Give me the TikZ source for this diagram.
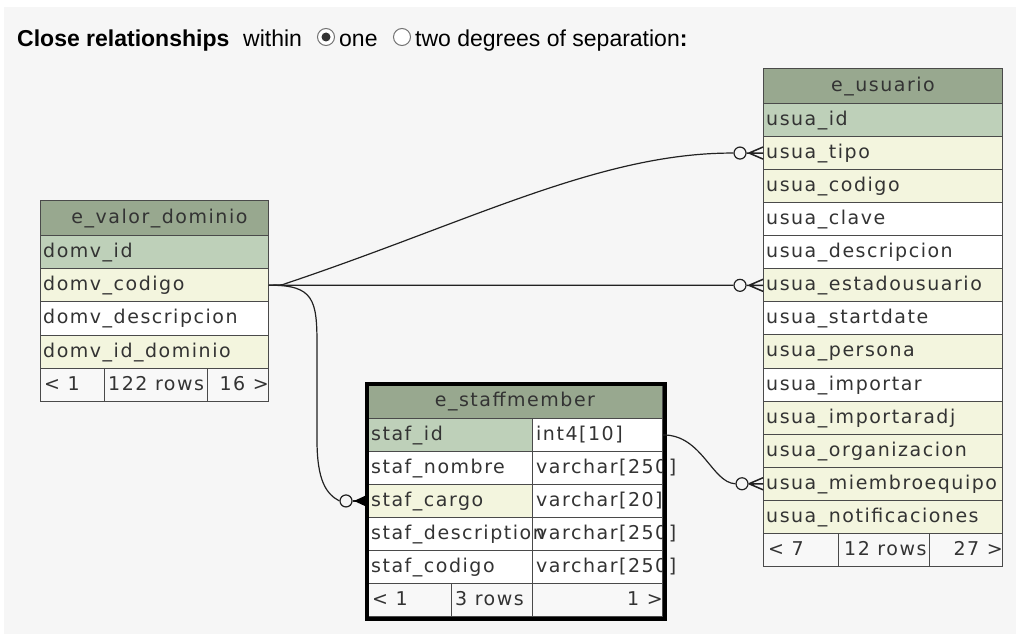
\documentclass[tikz,border=0pt]{standalone}
\usepackage{fontspec}
\newfontfamily\tabfont[LetterSpace=8]{DejaVu Sans}
\newfontfamily\uifont{Liberation Sans}
\definecolor{pagebg}{HTML}{F6F6F6}
\definecolor{hdr}{HTML}{98A88F}
\definecolor{pkrow}{HTML}{BED0B9}
\definecolor{fkrow}{HTML}{F3F5DE}
\definecolor{footrow}{HTML}{F8F8F8}
\definecolor{gridline}{HTML}{4A4A4A}
\definecolor{celltext}{HTML}{333333}
\definecolor{linkline}{HTML}{222222}
\tikzset{
  cell/.style={draw=gridline, line width=0.9pt, anchor=north west, inner sep=0pt, minimum height=33.07pt},
  ctext/.style={anchor=west, inner sep=0pt, text=celltext, font=\tabfont\fontsize{19}{22}\selectfont, text height=15pt, text depth=4pt},
  rtext/.style={ctext, anchor=east},
  htext/.style={ctext, anchor=center},
  ui/.style={anchor=base west, inner sep=0pt, font=\uifont\fontsize{23}{26}\selectfont, text=black},
  conn/.style={draw=linkline, line width=1.2pt},
  oend/.style={circle, draw=linkline, line width=1.2pt, fill=pagebg, minimum size=12pt, inner sep=0pt},
  crow/.style={draw=linkline, line width=1.5pt},
}
\begin{document}
\begin{tikzpicture}[x=1pt,y=-1pt]
\useasboundingbox (0,0) rectangle (1016,634);
\fill[white] (0,0) rectangle (1016,634);
\fill[pagebg] (4,7) rectangle (1016,634);

% heading line with the two radio buttons
\node[ui] (ttl) at (17,46) {\bfseries Close relationships};
\node[ui] (within) at (243,46) {within};
\node[circle, draw=black!55, line width=1pt, fill=white, minimum size=17pt, inner sep=0pt] (rb1) at (326,37) {};
\node[circle, fill=black!80, minimum size=9pt, inner sep=0pt] (rb1dot) at (rb1.center) {};
\node[ui] (one) at (339,46) {one};
\node[circle, draw=black!55, line width=1pt, fill=white, minimum size=17pt, inner sep=0pt] (rb2) at (402,37) {};
\node[ui] (two) at (415,46) {two degrees of separation\textbf{:}};

% ---------- e_valor_dominio ----------
\node[cell, fill=hdr, minimum width=228pt, minimum height=35pt] (vh) at (40,200) {};
\node[htext] (vht) at ([xshift=5pt]vh.center) {e\_valor\_dominio};
\node[cell, fill=pkrow, minimum width=228pt, minimum height=33.2pt] (v1) at (40,235) {};
\node[cell, fill=fkrow, minimum width=228pt, minimum height=33.2pt] (v2) at (40,268.2) {};
\node[cell, fill=white, minimum width=228pt, minimum height=33.2pt] (v3) at (40,301.4) {};
\node[cell, fill=fkrow, minimum width=228pt, minimum height=33.2pt] (v4) at (40,334.6) {};
\node[cell, fill=footrow, minimum width=64pt, minimum height=33.2pt] (vf1) at (40,367.8) {};
\node[cell, fill=footrow, minimum width=103pt, minimum height=33.2pt] (vf2) at (104,367.8) {};
\node[cell, fill=footrow, minimum width=61pt, minimum height=33.2pt] (vf3) at (207,367.8) {};
\node[ctext] (v1t) at ([xshift=3pt]v1.west) {domv\_id};
\node[ctext] (v2t) at ([xshift=3pt]v2.west) {domv\_codigo};
\node[ctext] (v3t) at ([xshift=3pt]v3.west) {domv\_descripcion};
\node[ctext] (v4t) at ([xshift=3pt]v4.west) {domv\_id\_dominio};
\node[ctext] (vf1t) at ([xshift=4pt]vf1.west) {< 1};
\node[ctext] (vf2t) at ([xshift=4pt]vf2.west) {122 rows};
\node[rtext] (vf3t) at ([xshift=0pt]vf3.east) {16 >};

% ---------- e_usuario ----------
\node[cell, fill=hdr, minimum width=239pt, minimum height=35pt] (uh) at (763,68) {};
\node[htext] (uht) at (uh.center) {e\_usuario};
\node[cell, fill=pkrow, minimum width=239pt] (u1) at (763,103) {};
\node[cell, fill=fkrow, minimum width=239pt] (u2) at (763,136.07) {};
\node[cell, fill=fkrow, minimum width=239pt] (u3) at (763,169.14) {};
\node[cell, fill=white, minimum width=239pt] (u4) at (763,202.21) {};
\node[cell, fill=white, minimum width=239pt] (u5) at (763,235.28) {};
\node[cell, fill=fkrow, minimum width=239pt] (u6) at (763,268.35) {};
\node[cell, fill=white, minimum width=239pt] (u7) at (763,301.42) {};
\node[cell, fill=fkrow, minimum width=239pt] (u8) at (763,334.49) {};
\node[cell, fill=white, minimum width=239pt] (u9) at (763,367.56) {};
\node[cell, fill=fkrow, minimum width=239pt] (u10) at (763,400.63) {};
\node[cell, fill=fkrow, minimum width=239pt] (u11) at (763,433.70) {};
\node[cell, fill=fkrow, minimum width=239pt] (u12) at (763,466.77) {};
\node[cell, fill=fkrow, minimum width=239pt] (u13) at (763,499.84) {};
\node[cell, fill=footrow, minimum width=75pt] (uf1) at (763,532.91) {};
\node[cell, fill=footrow, minimum width=91pt] (uf2) at (838,532.91) {};
\node[cell, fill=footrow, minimum width=73pt] (uf3) at (929,532.91) {};
\node[ctext] (u1t) at ([xshift=3pt]u1.west) {usua\_id};
\node[ctext] (u2t) at ([xshift=3pt]u2.west) {usua\_tipo};
\node[ctext] (u3t) at ([xshift=3pt]u3.west) {usua\_codigo};
\node[ctext] (u4t) at ([xshift=3pt]u4.west) {usua\_clave};
\node[ctext] (u5t) at ([xshift=3pt]u5.west) {usua\_descripcion};
\node[ctext] (u6t) at ([xshift=3pt]u6.west) {usua\_estadousuario};
\node[ctext] (u7t) at ([xshift=3pt]u7.west) {usua\_startdate};
\node[ctext] (u8t) at ([xshift=3pt]u8.west) {usua\_persona};
\node[ctext] (u9t) at ([xshift=3pt]u9.west) {usua\_importar};
\node[ctext] (u10t) at ([xshift=3pt]u10.west) {usua\_importaradj};
\node[ctext] (u11t) at ([xshift=3pt]u11.west) {usua\_organizacion};
\node[ctext] (u12t) at ([xshift=3pt]u12.west) {usua\_miembroequipo};
\node[ctext] (u13t) at ([xshift=3pt]u13.west) {usua\_notificaciones};
\node[ctext] (uf1t) at ([xshift=5pt]uf1.west) {< 7};
\node[ctext] (uf2t) at ([xshift=6pt]uf2.west) {12 rows};
\node[rtext] (uf3t) at ([xshift=0pt]uf3.east) {27 >};

% ---------- e_staffmember ----------
\node[cell, fill=hdr, minimum width=295pt, minimum height=35pt] (sh) at (367,383) {};
\node[htext] (sht) at (sh.center) {e\_staffmember};
\node[cell, fill=pkrow, minimum width=165pt, minimum height=33pt] (s1a) at (367,418) {};
\node[cell, fill=white, minimum width=130pt, minimum height=33pt] (s1b) at (532,418) {};
\node[cell, fill=white, minimum width=165pt, minimum height=33pt] (s2a) at (367,451) {};
\node[cell, fill=white, minimum width=130pt, minimum height=33pt] (s2b) at (532,451) {};
\node[cell, fill=fkrow, minimum width=165pt, minimum height=33pt] (s3a) at (367,484) {};
\node[cell, fill=white, minimum width=130pt, minimum height=33pt] (s3b) at (532,484) {};
\node[cell, fill=white, minimum width=165pt, minimum height=33pt] (s4a) at (367,517) {};
\node[cell, fill=white, minimum width=130pt, minimum height=33pt] (s4b) at (532,517) {};
\node[cell, fill=white, minimum width=165pt, minimum height=33pt] (s5a) at (367,550) {};
\node[cell, fill=white, minimum width=130pt, minimum height=33pt] (s5b) at (532,550) {};
\node[cell, fill=footrow, minimum width=84pt, minimum height=33pt] (sf1) at (367,583) {};
\node[cell, fill=footrow, minimum width=81pt, minimum height=33pt] (sf2) at (451,583) {};
\node[cell, fill=footrow, minimum width=130pt, minimum height=33pt] (sf3) at (532,583) {};
\node[ctext] (s1at) at ([xshift=4pt]s1a.west) {staf\_id};
\node[ctext] (s1bt) at ([xshift=4pt]s1b.west) {int4[10]};
\node[ctext] (s2at) at ([xshift=4pt]s2a.west) {staf\_nombre};
\node[ctext] (s2bt) at ([xshift=4pt]s2b.west) {varchar[250]};
\node[ctext] (s3at) at ([xshift=4pt]s3a.west) {staf\_cargo};
\node[ctext] (s3bt) at ([xshift=4pt]s3b.west) {varchar[20]};
\node[ctext] (s4at) at ([xshift=4pt]s4a.west) {staf\_description};
\node[ctext] (s4bt) at ([xshift=4pt]s4b.west) {varchar[250]};
\node[ctext] (s5at) at ([xshift=4pt]s5a.west) {staf\_codigo};
\node[ctext] (s5bt) at ([xshift=4pt]s5b.west) {varchar[250]};
\node[ctext] (sf1t) at ([xshift=5pt]sf1.west) {< 1};
\node[ctext] (sf2t) at ([xshift=4pt]sf2.west) {3 rows};
\node[rtext] (sf3t) at ([xshift=0pt]sf3.east) {1 >};
% heavy frame of the focused table
\node[draw=black, line width=4pt, minimum width=298pt, minimum height=235.5pt, anchor=north west, inner sep=0pt] (sframe) at (365,381.5) {};

% ---------- relationships ----------
\node[oend] (o1) at ([xshift=-23pt]u2.west) {};
\node[oend] (o2) at ([xshift=-23pt]u6.west) {};
\node[oend] (o3) at ([xshift=-21pt]s3a.west) {};
\node[oend] (o4) at ([xshift=-21pt]u12.west) {};

\draw[conn] (v2.east) -- (282,284.8) .. controls (470,222) and (600,152.6) .. (o1.west);
\draw[conn] (v2.east) -- (o2.west);
\draw[conn] (v2.east) .. controls (314,284.8) and (317,300) .. (317,345) -- (317,440) .. controls (317,480) and (326,494) .. (o3.west);
\draw[conn] (s1b.east) .. controls (702,434.5) and (712,483) .. (o4.west);

% crow's feet at the many side
\draw[crow] (o1.east) -- (u2.west) ([xshift=-14pt]u2.west) -- ([yshift=6pt]u2.west) ([xshift=-14pt]u2.west) -- ([yshift=-6pt]u2.west);
\draw[crow] (o2.east) -- (u6.west) ([xshift=-14pt]u6.west) -- ([yshift=6pt]u6.west) ([xshift=-14pt]u6.west) -- ([yshift=-6pt]u6.west);
\draw[crow] (o4.east) -- (u12.west) ([xshift=-14pt]u12.west) -- ([yshift=6pt]u12.west) ([xshift=-14pt]u12.west) -- ([yshift=-6pt]u12.west);
\draw[crow] (o3.east) -- (s3a.west);
\fill[black] ([xshift=-13pt]s3a.west) -- ([yshift=6pt]s3a.west) -- ([yshift=-6pt]s3a.west) -- cycle;
\end{tikzpicture}
\end{document}
